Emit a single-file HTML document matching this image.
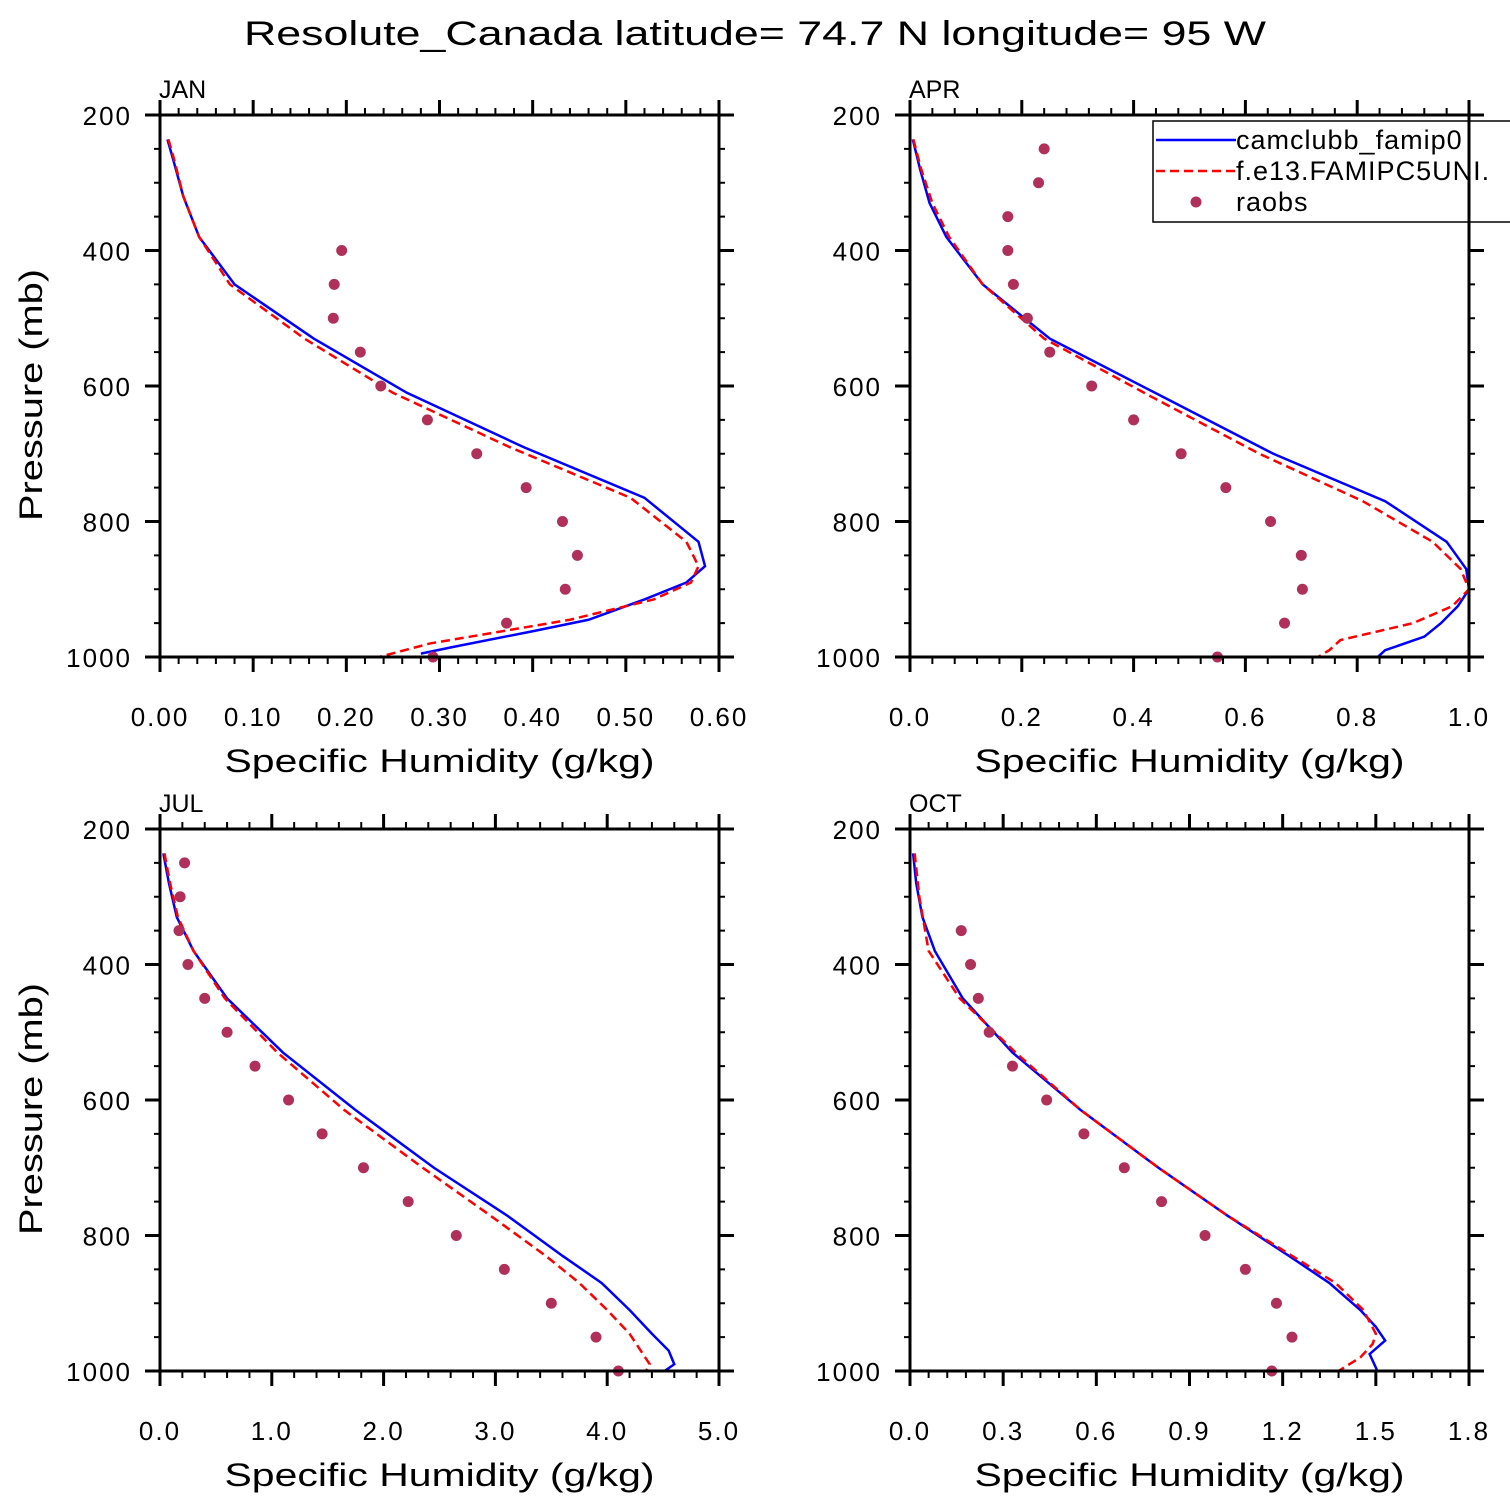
<!DOCTYPE html>
<html><head><meta charset="utf-8"><style>
html,body{margin:0;padding:0;background:#fff}
svg{display:block}
text{font-family:"Liberation Sans",sans-serif;fill:#000}
</style></head><body>
<svg id="chart" width="1510" height="1510" viewBox="0 0 1510 1510" xmlns="http://www.w3.org/2000/svg">
<text x="755" y="45" font-size="34" text-anchor="middle" textLength="1022" lengthAdjust="spacingAndGlyphs">Resolute_Canada  latitude= 74.7 N longitude= 95 W</text>
</svg>
<script>
// ---- data ----
const months = ["JAN","APR","JUL","OCT"];
const xMax = [0.6, 1.0, 5.0, 1.8];
const xTickLabels = [
  ["0.00","0.10","0.20","0.30","0.40","0.50","0.60"],
  ["0.0","0.2","0.4","0.6","0.8","1.0"],
  ["0.0","1.0","2.0","3.0","4.0","5.0"],
  ["0.0","0.3","0.6","0.9","1.2","1.5","1.8"]
];
const yTickLabels = ["200","400","600","800","1000"];
const janCamP = [236,270,320,380,450,530,610,690,765,830,866,890,915,945,962,985,995];
const janCamQ = [0.008,0.015,0.025,0.042,0.08,0.165,0.265,0.39,0.52,0.578,0.585,0.565,0.52,0.46,0.40,0.315,0.28];
const janE13P = [236,270,320,380,450,530,610,690,765,830,866,890,915,945,980,1000];
const janE13Q = [0.009,0.016,0.025,0.042,0.075,0.155,0.25,0.375,0.505,0.565,0.578,0.57,0.53,0.44,0.29,0.235];
const janObsP = [400,450,500,550,600,650,700,750,800,850,900,950,1000];
const janObsQ = [0.195,0.187,0.186,0.215,0.237,0.287,0.34,0.393,0.432,0.448,0.435,0.372,0.293];
const aprCamP = [236,280,330,380,450,530,615,700,770,830,870,900,925,950,970,990,1005];
const aprCamQ = [0.005,0.018,0.035,0.065,0.13,0.25,0.45,0.65,0.85,0.96,0.995,1.0,0.98,0.95,0.92,0.85,0.83];
const aprE13P = [236,280,330,380,450,530,615,700,770,830,870,900,925,950,975,990,1000];
const aprE13Q = [0.006,0.02,0.04,0.07,0.13,0.24,0.43,0.625,0.81,0.935,0.985,1.0,0.97,0.90,0.77,0.75,0.73];
const aprObsP = [250,300,350,400,450,500,550,600,650,700,750,800,850,900,950,1000];
const aprObsQ = [0.24,0.23,0.175,0.175,0.185,0.21,0.25,0.325,0.40,0.485,0.565,0.645,0.70,0.702,0.67,0.55];
const julCamP = [236,280,330,380,450,530,615,700,770,830,870,910,945,970,990,1005];
const julCamQ = [0.03,0.08,0.15,0.3,0.6,1.1,1.75,2.45,3.1,3.6,3.95,4.2,4.4,4.55,4.6,4.47];
const julE13P = [236,280,330,380,450,530,615,700,770,830,870,910,945,970,990,1005];
const julE13Q = [0.04,0.09,0.16,0.3,0.58,1.05,1.65,2.35,2.95,3.45,3.75,4.0,4.2,4.3,4.38,4.33];
const julObsP = [250,300,350,400,450,500,550,600,650,700,750,800,850,900,950,1000];
const julObsQ = [0.22,0.18,0.17,0.25,0.4,0.6,0.85,1.15,1.45,1.82,2.22,2.65,3.08,3.5,3.9,4.1];
const octCamP = [236,280,330,380,450,530,615,700,770,830,870,910,935,955,975,1005];
const octCamQ = [0.01,0.02,0.04,0.08,0.17,0.33,0.55,0.8,1.02,1.22,1.35,1.45,1.5,1.53,1.48,1.51];
const octE13P = [236,300,380,450,530,615,700,770,830,870,910,945,960,980,1000];
const octE13Q = [0.015,0.03,0.06,0.16,0.34,0.55,0.8,1.02,1.23,1.37,1.46,1.5,1.49,1.45,1.38];
const octObsP = [350,400,450,500,550,600,650,700,750,800,850,900,950,1000];
const octObsQ = [0.165,0.195,0.22,0.255,0.33,0.44,0.56,0.69,0.81,0.95,1.08,1.18,1.23,1.165];

const camP=[janCamP,aprCamP,julCamP,octCamP], camQ=[janCamQ,aprCamQ,julCamQ,octCamQ];
const e13P=[janE13P,aprE13P,julE13P,octE13P], e13Q=[janE13Q,aprE13Q,julE13Q,octE13Q];
const obsP=[janObsP,aprObsP,julObsP,octObsP], obsQ=[janObsQ,aprObsQ,julObsQ,octObsQ];

const NS="http://www.w3.org/2000/svg";
const svg=document.getElementById('chart');
function mk(tag,attrs,parent){const e=document.createElementNS(NS,tag);for(const k in attrs)e.setAttribute(k,attrs[k]);(parent||svg).appendChild(e);return e;}
const W=559, H=542;
const origins=[[160,115],[910,115],[160,829],[910,829]];
for(let i=0;i<4;i++){
  const [x0,y0]=origins[i];
  const g=mk('g',{});
  
  
  const xs=v=>x0+v/xMax[i]*W;
  const ys=p=>y0+(p-200)/800*H;
  const clipId='clip'+i;
  const cp=mk('clipPath',{id:clipId},g); mk('rect',{x:x0,y:y0,width:W,height:H},cp);
  // series
  const lineBlue=mk('polyline',{points:camP[i].map((p,k)=>xs(camQ[i][k])+','+ys(p)).join(' '),fill:'none',stroke:'#0000ff','stroke-width':2.5,'clip-path':'url(#'+clipId+')'},g);
  
  
  const lineRed=mk('polyline',{points:e13P[i].map((p,k)=>xs(e13Q[i][k])+','+ys(p)).join(' '),fill:'none',stroke:'#ff0000','stroke-width':2.5,'stroke-dasharray':'9,5','clip-path':'url(#'+clipId+')'},g);
  
  
  obsP[i].forEach((p,k)=>{
    const c=mk('circle',{cx:xs(obsQ[i][k]),cy:ys(p),r:5.5,fill:'#b0305a'},g);
    
    
  });
  // frame
  const fr=mk('rect',{x:x0,y:y0,width:W,height:H,fill:'none',stroke:'#000','stroke-width':3},g);
  
  
  // x ticks
  const nMaj=xTickLabels[i].length-1;
  for(let m=0;m<=nMaj*5;m++){
    const x=x0+m/(nMaj*5)*W, maj=m%5===0, L=maj?15:7;
    mk('line',{x1:x,y1:y0,x2:x,y2:y0-L,stroke:'#000','stroke-width':maj?3:2},g);
    mk('line',{x1:x,y1:y0+H,x2:x,y2:y0+H+L,stroke:'#000','stroke-width':maj?3:2},g);
  }
  xTickLabels[i].forEach((t,k)=>{
    const tx=mk('text',{x:x0+k/nMaj*W,y:y0+H+69,'font-size':26,'text-anchor':'middle','letter-spacing':2},g);
    tx.textContent=t;
    
    
  });
  // y ticks
  for(let p=200;p<=1000;p+=50){
    const y=ys(p), maj=p%200===0, L=maj?15:6;
    mk('line',{x1:x0,y1:y,x2:x0-L,y2:y,stroke:'#000','stroke-width':maj?3:2},g);
    mk('line',{x1:x0+W,y1:y,x2:x0+W+L,y2:y,stroke:'#000','stroke-width':maj?3:2},g);
  }
  yTickLabels.forEach((t,k)=>{
    const ty=mk('text',{x:x0-28,y:y0+k*H/4+10,'font-size':26,'text-anchor':'end','letter-spacing':2},g);
    ty.textContent=t;
    
    
  });
  const lab=mk('text',{x:x0-1,y:y0-17,'font-size':25},g);
  lab.textContent=months[i];
  
  
  const xt=mk('text',{x:x0+W/2,y:y0+H+115,'font-size':32,'text-anchor':'middle',textLength:430,lengthAdjust:'spacingAndGlyphs'},g);
  xt.textContent='Specific Humidity (g/kg)';
  
  
  if(i%2===0){
    const yt=mk('text',{x:0,y:0,'font-size':32,'text-anchor':'middle',textLength:252,lengthAdjust:'spacingAndGlyphs',transform:'translate(42,'+(y0+280)+') rotate(-90)'},g);
    yt.textContent='Pressure (mb)';
    
    
  }
}
// legend
const lg=mk('g',{});


mk('rect',{x:1153,y:121,width:370,height:101,fill:'#fff',stroke:'#000','stroke-width':1.5},lg);
mk('line',{x1:1156,y1:140,x2:1236,y2:140,stroke:'#0000ff','stroke-width':2.5},lg);
mk('line',{x1:1156,y1:171,x2:1236,y2:171,stroke:'#ff0000','stroke-width':2.5,'stroke-dasharray':'9,5'},lg);
mk('circle',{cx:1196,cy:202,r:5.5,fill:'#b0305a'},lg);
const names=["camclubb_famip0","f.e13.FAMIPC5UNI.","raobs"];
names.forEach((n,k)=>{
  const t=mk('text',{x:1236,y:149+k*31,'font-size':27,'letter-spacing':1},lg);
  t.textContent=n;
  
  
});
// APR frame right edge drawn over legend
mk('line',{x1:1469,y1:115,x2:1469,y2:230,stroke:'#000','stroke-width':3});
</script>
</body></html>
